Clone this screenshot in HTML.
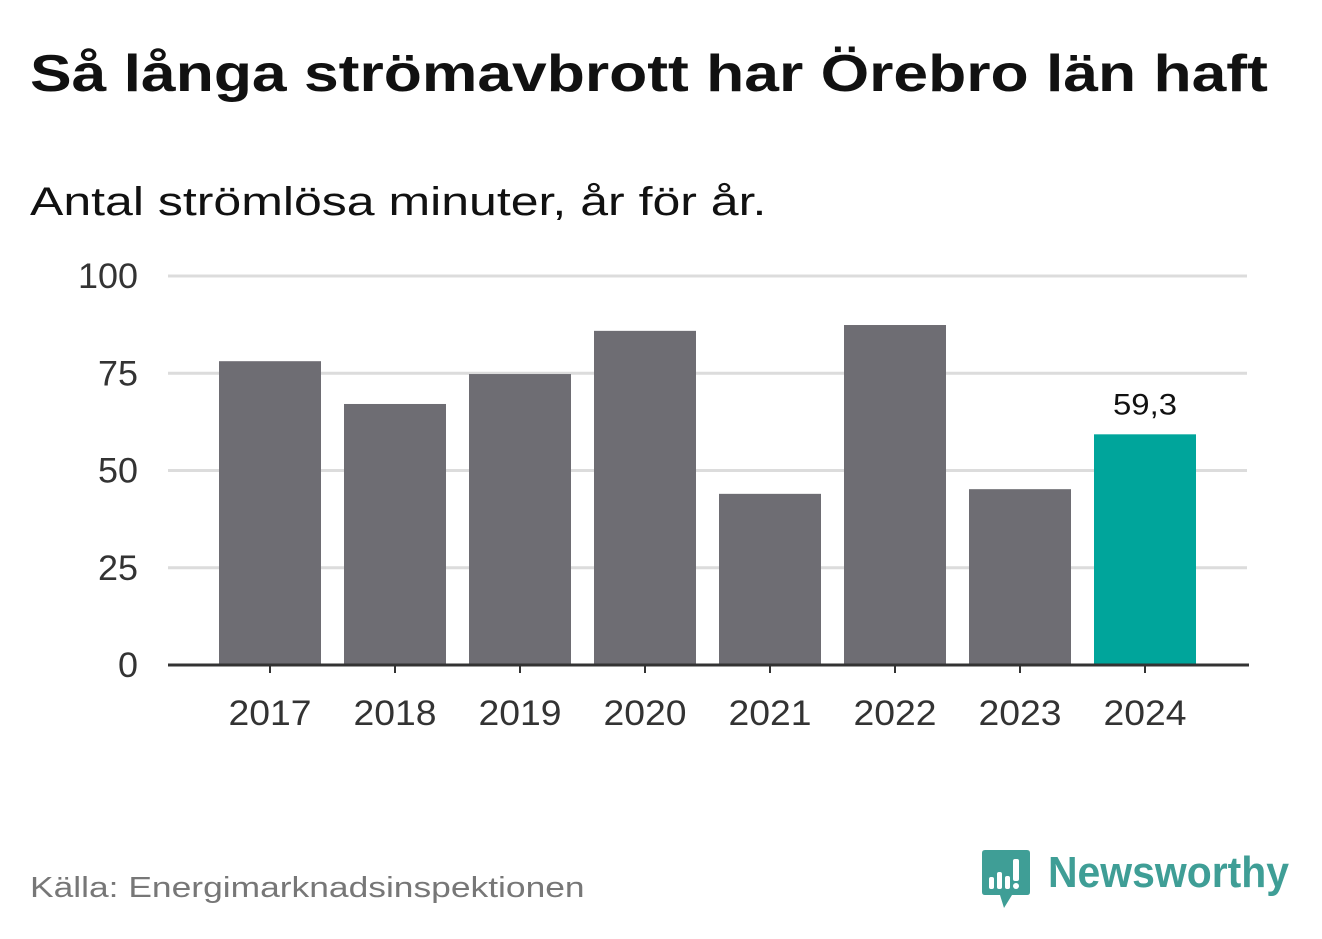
<!DOCTYPE html>
<html><head><meta charset="utf-8"><style>
body{margin:0;width:1322px;height:939px;background:#fff;font-family:"Liberation Sans","DejaVu Sans",sans-serif;overflow:hidden;position:relative}
.t{position:absolute;white-space:nowrap;transform-origin:left top}
</style></head><body>
<div class="t" style="left:30px;top:44px;font-size:52px;font-weight:bold;color:#111;transform:scaleX(1.2)">Så långa strömavbrott har Örebro län haft</div>
<div class="t" style="left:30px;top:180px;font-size:40px;color:#111;transform:scaleX(1.25)">Antal strömlösa minuter, år för år.</div>
<svg id="chart" width="1322" height="780" style="position:absolute;left:0;top:0"></svg>
<div class="t" style="left:30px;top:872px;font-size:29px;color:#777;transform:scaleX(1.22)">Källa: Energimarknadsinspektionen</div>
<div style="position:absolute;left:982px;top:850px">
<svg width="50" height="60" style="position:absolute;left:0;top:0"><path d="M3 0H45Q48 0 48 3V42Q48 45 45 45H30L22 58L18 45H3Q0 45 0 42V3Q0 0 3 0Z" fill="#3f9e96"/><rect x="7" y="27" width="5" height="12" rx="2" fill="#fff"/><rect x="15" y="22" width="5" height="17" rx="2" fill="#fff"/><rect x="23" y="26" width="5" height="13" rx="2" fill="#fff"/><rect x="31" y="9" width="6" height="22" rx="2" fill="#fff"/><circle cx="34" cy="36" r="3" fill="#fff"/></svg>
<div class="t" style="left:66px;top:-2px;font-size:44px;font-weight:bold;color:#3f9e96;transform:scaleX(0.93)">Newsworthy</div>
</div>
<script>
const years=["2017","2018","2019","2020","2021","2022","2023","2024"];
const values=[78.1,67.1,74.8,85.9,44.0,87.4,45.2,59.3];
const yTicks=[0,25,50,75,100];
const highlightLabel="59,3";
const svg=document.getElementById('chart');
const NS="http://www.w3.org/2000/svg";
const y=v=>665-v*3.89;
const x=i=>270+i*125;
function mk(t,a){const e=document.createElementNS(NS,t);for(const k in a)e.setAttribute(k,a[k]);svg.appendChild(e);return e;}
yTicks.forEach(v=>{
  if(v>0){const g=mk('line',{x1:168,x2:1247,y1:y(v),y2:y(v),stroke:'#dcdcdc','stroke-width':3});
  
  }
  const t=mk('text',{x:138,y:y(v)+12,'text-anchor':'end','font-size':35,fill:'#333','font-family':'Liberation Sans, sans-serif','textLength':(String(v).length*20),'lengthAdjust':'spacingAndGlyphs'});
  t.textContent=v;
  
  
});
values.forEach((v,i)=>{
  const last=i===values.length-1;
  const r=mk('rect',{x:x(i)-51,y:y(v),width:102,height:665-y(v),fill:last?'#00a59b':'#6e6d73'});
  
  
  const tk=mk('line',{x1:x(i),x2:x(i),y1:665,y2:673,stroke:'#333','stroke-width':2});
  
  
  const t=mk('text',{x:x(i),y:725,'text-anchor':'middle','font-size':35,fill:'#333','font-family':'Liberation Sans, sans-serif','textLength':83,'lengthAdjust':'spacingAndGlyphs'});
  t.textContent=years[i];
  
  
  if(last){const l=mk('text',{x:x(i),y:y(v)-20,'text-anchor':'middle','font-size':30,fill:'#111','font-family':'Liberation Sans, sans-serif','textLength':64,'lengthAdjust':'spacingAndGlyphs'});
  l.textContent=highlightLabel;
  
  }
});
const b=mk('line',{x1:168,x2:1249,y1:665,y2:665,stroke:'#333','stroke-width':3});


</script>
</body></html>
